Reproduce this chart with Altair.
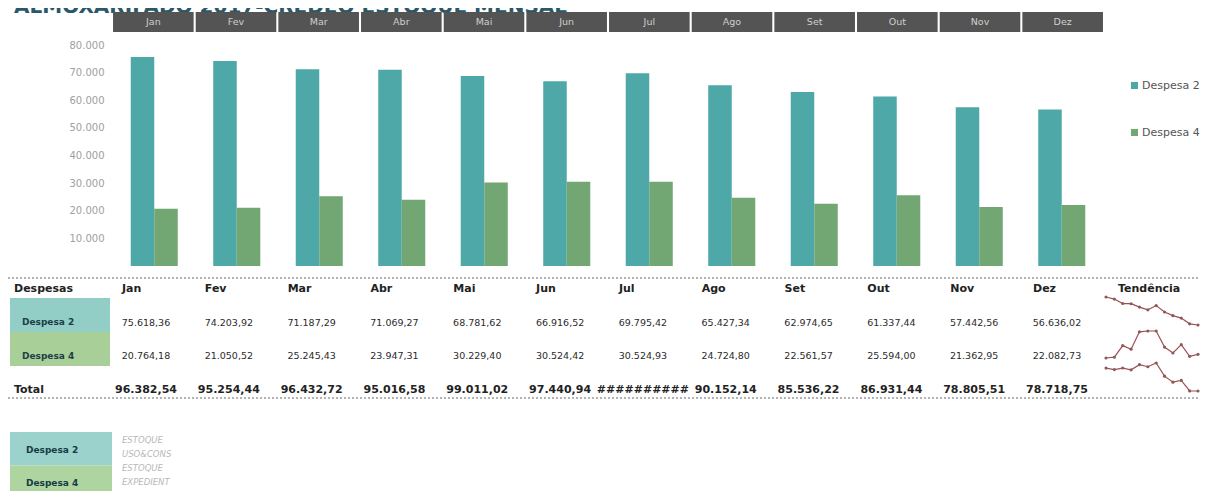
import altair as alt
import pandas as pd

W, H = 1192, 483

# ---------------- data ----------------
title_text = "ALMOXARIFADO 2017-CREDEQ ESTOQUE MENSAL"
months = ["Jan", "Fev", "Mar", "Abr", "Mai", "Jun", "Jul", "Ago", "Set", "Out", "Nov", "Dez"]
series = ["Despesa 2", "Despesa 4"]
desp2 = [75618.36, 74203.92, 71187.29, 71069.27, 68781.62, 66916.52,
         69795.42, 65427.34, 62974.65, 61337.44, 57442.56, 56636.02]
desp4 = [20764.18, 21050.52, 25245.43, 23947.31, 30229.40, 30524.42,
         30524.93, 24724.80, 22561.57, 25594.00, 21362.95, 22082.73]
y_ticks = [10000, 20000, 30000, 40000, 50000, 60000, 70000, 80000]
table_rows = ["Despesas", "Despesa 2", "Despesa 4", "Total"]
notes = ["ESTOQUE", "USO&CONS", "ESTOQUE", "EXPEDIENT"]
trend_label = "Tendência"

TEAL, GREEN = "#4ea8a8", "#72a673"
CELL_TEAL, CELL_GREEN = "#92cdc6", "#a9cf99"
FONT = "DejaVu Sans"
FMT = "replace(replace(replace(format(datum.v, ',.2f'), ',', '_'), '.', ','), '_', '.')"

totals = [a + b for a, b in zip(desp2, desp4)]

bars_df = pd.DataFrame({
    "month": months * 2,
    "series": [s for s in series for _ in months],
    "v": desp2 + desp4,
})
vals_df = pd.DataFrame({
    "month": months * 2,
    "row": [s for s in series for _ in months],
    "v": desp2 + desp4,
})
tot_df = pd.DataFrame({"month": months, "row": "Total", "v": totals})
hdr_df = pd.DataFrame({"month": months, "row": "Despesas"})
one = pd.DataFrame({"k": [0]})

# ---------------- title (cut at the top edge, as in the scan) ----------------
title = alt.Chart(pd.DataFrame({"t": [title_text]})).mark_text(
    align="left", baseline="alphabetic", font=FONT, fontWeight="bold",
    fontSize=20, color="#2a5868"
).encode(text="t:N", x=alt.value(6), y=alt.value(5))

# ---------------- month header ----------------
hx = alt.X("month:N", sort=months, axis=None,
           scale=alt.Scale(domain=months, range=[104, 1096],
                           paddingInner=0.025, paddingOuter=0.0125))
hdr_cells = alt.Chart(hdr_df).mark_rect(color="#545454").encode(
    x=hx, y=alt.value(4), y2=alt.value(24))
hdr_text = alt.Chart(hdr_df).mark_text(
    font=FONT, fontSize=9.5, color="#cfcfcf", baseline="middle"
).encode(x=hx, y=alt.value(14), text="month:N")

# ---------------- bars ----------------
bars = alt.Chart(bars_df).mark_bar().encode(
    x=alt.X("month:N", sort=months, axis=None,
            scale=alt.Scale(domain=months, range=[105, 1095],
                            paddingInner=0.43, paddingOuter=0.215)),
    xOffset=alt.XOffset("series:N", scale=alt.Scale(domain=series, paddingInner=0, paddingOuter=0)),
    y=alt.Y("v:Q",
            scale=alt.Scale(domain=[0, 80000], range=[258, 37], nice=False),
            axis=alt.Axis(values=y_ticks, title=None,
                          labelExpr="replace(format(datum.value, ','), ',', '.')",
                          domain=False, ticks=False, grid=False, labelPadding=9,
                          offset=-105, labelFont=FONT, labelFontSize=10,
                          labelColor="#a0a0a0")),
    color=alt.Color("series:N",
                    scale=alt.Scale(domain=series, range=[TEAL, GREEN]),
                    legend=alt.Legend(title=None, orient="none", legendX=1121, legendY=72,
                                      direction="vertical", symbolType="square",
                                      symbolSize=50, symbolStrokeWidth=0,
                                      labelFont=FONT, labelFontSize=11,
                                      labelColor="#555555", rowPadding=35,
                                      labelOffset=2, padding=0)),
)

# ---------------- table ----------------
rule_top = alt.Chart(one).mark_rule(color="#9a9a9a", strokeDash=[2, 2], strokeWidth=1.5).encode(
    x=alt.value(0), x2=alt.value(W), y=alt.value(270))
rule_bot = alt.Chart(one).mark_rule(color="#9a9a9a", strokeDash=[2, 2], strokeWidth=1.5).encode(
    x=alt.value(0), x2=alt.value(W), y=alt.value(390))

tx = alt.X("month:N", sort=months, axis=None,
           scale=alt.Scale(type="point", domain=months, range=[138, 1049], padding=0))
ty = alt.Y("row:N", axis=None,
           scale=alt.Scale(type="point", domain=table_rows, range=[281, 382], padding=0))

hdr_labels = alt.Chart(hdr_df).mark_text(
    align="left", baseline="middle", dx=-24, font=FONT, fontWeight="bold",
    fontSize=11, color="#222222"
).encode(x=tx, y=ty, text="month:N")

side_df = pd.DataFrame({"row": ["Despesas", "Total"]})
side_labels = alt.Chart(side_df).mark_text(
    align="left", baseline="middle", font=FONT, fontWeight="bold",
    fontSize=11, color="#222222"
).encode(x=alt.value(6), y=ty, text="row:N")

trend_hdr = alt.Chart(pd.DataFrame({"row": ["Despesas"], "t": [trend_label]})).mark_text(
    align="left", baseline="middle", font=FONT, fontWeight="bold",
    fontSize=11, color="#222222"
).encode(x=alt.value(1110), y=ty, text="t:N")

cell_y = alt.Y("row:N", axis=None,
               scale=alt.Scale(type="band", domain=series, range=[290, 358],
                               paddingInner=0, paddingOuter=0))
cells = alt.Chart(pd.DataFrame({"row": series})).mark_rect().encode(
    y=cell_y, x=alt.value(2), x2=alt.value(102),
    color=alt.Color("row:N", legend=None,
                    scale=alt.Scale(domain=series, range=[CELL_TEAL, CELL_GREEN])))
cell_text = alt.Chart(pd.DataFrame({"row": series})).mark_text(
    align="left", baseline="middle", dy=7, font=FONT, fontWeight="bold",
    fontSize=9, color="#1c4048"
).encode(y=cell_y, x=alt.value(14), text="row:N")

values = alt.Chart(vals_df).transform_calculate(lab=FMT).mark_text(
    baseline="middle", font=FONT, fontSize=9.5, color="#2b2b2b"
).encode(x=tx, y=ty, text="lab:N")

total_vals = alt.Chart(tot_df).transform_calculate(
    lab="datum.v >= 100000 ? '##########' : " + FMT
).mark_text(
    baseline="middle", font=FONT, fontWeight="bold", fontSize=11, color="#222222"
).encode(x=tx, y=ty, text="lab:N")

# ---------------- sparklines ----------------
def spark(vals, rng):
    df = pd.DataFrame({"month": months, "i": list(range(len(months))), "v": vals})
    return alt.Chart(df).mark_line(
        color="#a0504f", strokeWidth=1.2,
        point=alt.OverlayMarkDef(filled=True, size=10, color="#8c5a5a")
    ).encode(
        x=alt.X("month:N", sort=months, axis=None,
                scale=alt.Scale(type="point", domain=months, range=[1098, 1190], padding=0)),
        y=alt.Y("v:Q", axis=None, scale=alt.Scale(zero=False, nice=False, range=rng)),
        order=alt.Order("i:Q"),
    )

sp1 = spark(desp2, [317, 289])
sp2 = spark(desp4, [350, 323])
sp3 = spark(totals, [383, 355])

# ---------------- bottom-left key ----------------
key_y = alt.Y("row:N", axis=None,
              scale=alt.Scale(type="band", domain=series, range=[424, 491],
                              paddingInner=0, paddingOuter=0))
key_cells = alt.Chart(pd.DataFrame({"row": series})).mark_rect().encode(
    y=key_y, x=alt.value(2), x2=alt.value(104),
    color=alt.Color("row:N", legend=None,
                    scale=alt.Scale(domain=series, range=["#9bd3cc", "#aed49f"])))
key_text = alt.Chart(pd.DataFrame({"row": series})).mark_text(
    align="left", baseline="middle", dy=1, font=FONT, fontWeight="bold",
    fontSize=9, color="#173a44"
).encode(y=key_y, x=alt.value(18), text="row:N")

notes_df = pd.DataFrame({"k": list(range(len(notes))), "note": notes})
notes_text = alt.Chart(notes_df).mark_text(
    align="left", baseline="middle", font=FONT, fontStyle="italic",
    fontSize=8.5, color="#b8b8b8"
).encode(
    x=alt.value(114),
    y=alt.Y("k:O", axis=None,
            scale=alt.Scale(type="point", domain=list(range(len(notes))),
                            range=[432, 474], padding=0)),
    text="note:N")

chart = alt.layer(
    title, hdr_cells, hdr_text, bars,
    rule_top, rule_bot, cells, cell_text, hdr_labels, side_labels, trend_hdr,
    values, total_vals, sp1, sp2, sp3,
    key_cells, key_text, notes_text,
).resolve_scale(
    x="independent", y="independent", color="independent", xOffset="independent"
).properties(
    width=W, height=H, autosize=alt.AutoSizeParams(type="none"), padding=0
).configure_view(stroke=None)

chart.save("out.html", embed_options={"renderer": "svg", "actions": False})
